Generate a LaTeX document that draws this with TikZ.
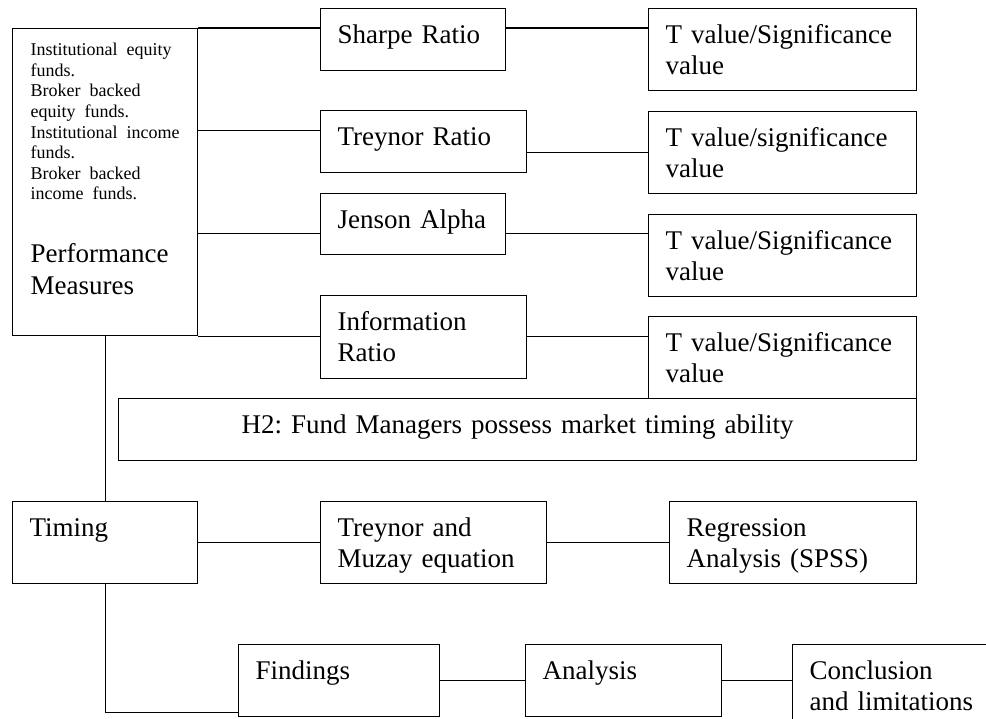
\documentclass[tikz,border=0pt]{standalone}
\usepackage{fontspec}
\setmainfont{Liberation Serif}
\usetikzlibrary{calc}
\frenchspacing
\newcommand{\bigtxt}{\fontsize{27pt}{31.5pt}\selectfont}
\newcommand{\smalltxt}{\fontsize{18pt}{20.6pt}\selectfont}
\tikzset{
  box/.style={draw, line width=1.3pt, anchor=north west, inner xsep=17pt, inner ysep=0pt,
    align=left, text height=34.5pt, font=\bigtxt},
  link/.style={line width=1.1pt}
}
\begin{document}
\begin{tikzpicture}[x=1pt, y=-1pt]
  \clip (0,0) rectangle (986,719);
  \node[box, minimum width=185pt, text width=149pt, inner xsep=18pt, text height=27pt, text depth=280pt] (pm) at (12,28)
    {\smalltxt Institutional equity\\funds.\\Broker backed\\equity funds.\\Institutional income\\funds.\\Broker backed\\income funds.\par
     \vspace{31.5pt}\bigtxt Performance\\Measures};
  \node[box, minimum width=185pt, text width=151pt, text depth=27.5pt] (sharpe) at (320,8) {Sharpe Ratio};
  \node[box, minimum width=206pt, text width=172pt, text depth=27.5pt] (treynor) at (320,110) {Treynor Ratio};
  \node[box, minimum width=185pt, text width=151pt, text depth=26.5pt] (jenson) at (320,193) {Jenson Alpha};
  \node[box, minimum width=206pt, text width=172pt, text depth=48.5pt] (info) at (320,295) {Information\\Ratio};
  \foreach \i/\y/\word in {1/8/Significance, 2/111/significance, 3/214/Significance, 4/316/Significance}
    {\node[box, minimum width=268pt, text width=234pt, text depth=47.5pt] (tv\i) at (648,\y) {T value/\word\\value};}
  \node[box, align=center, minimum width=798pt, text width=764pt, text depth=27.5pt] (h2) at (118,398)
    {H2: Fund Managers possess market timing ability};
  \node[box, minimum width=185pt, text width=151pt, text depth=47.5pt] (timing) at (12,501) {Timing};
  \node[box, minimum width=226pt, text width=192pt, text depth=47.5pt] (muzay) at (320,501) {Treynor and\\Muzay equation};
  \node[box, minimum width=247pt, text width=213pt, text depth=47.5pt] (regr) at (669,501) {Regression\\Analysis (SPSS)};
  \node[box, minimum width=201pt, text width=167pt, text depth=37.5pt] (findings) at (238,644) {Findings};
  \node[box, minimum width=196pt, text width=162pt, text depth=37.5pt] (analysis) at (525,644) {Analysis};
  \node[box, minimum width=230pt, text width=196pt, text depth=65.5pt] (concl) at (792,644) {Conclusion\\and limitations};

  \coordinate (r1) at (pm.north east);
  \coordinate (r2) at ($(pm.north east)!1/3!(pm.south east)$);
  \coordinate (r3) at ($(pm.north east)!2/3!(pm.south east)$);
  \coordinate (r4) at (pm.south east);
  \coordinate (fcorner) at ($(findings.south west)+(0,-5)$);

  \draw[link] (r1) -- (r1 -| sharpe.west);
  \draw[link] (r1 -| sharpe.east) -- (r1 -| tv1.west);
  \draw[link] (r2) -- (r2 -| treynor.west);
  \draw[link] (tv2.west -| treynor.east) -- (tv2.west);
  \draw[link] (r3) -- (r3 -| jenson.west);
  \draw[link] (r3 -| jenson.east) -- (r3 -| tv3.west);
  \draw[link] (r4) -- (r4 -| info.west);
  \draw[link] (r4 -| info.east) -- (r4 -| tv4.west);
  \draw[link] (pm.south) -- (timing.north);
  \draw[link] (timing.east) -- (muzay.west);
  \draw[link] (muzay.east) -- (regr.west);
  \draw[link] (timing.south) |- (fcorner);
  \draw[link] (findings.east) -- (analysis.west);
  \draw[link] (analysis.east) -- (analysis.east -| concl.west);
\end{tikzpicture}
\end{document}
